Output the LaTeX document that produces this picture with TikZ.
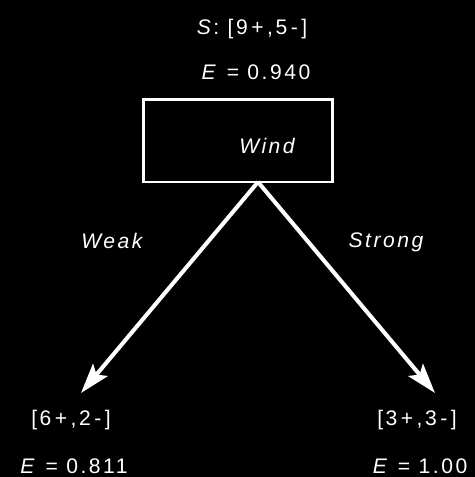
\documentclass[tikz,border=0pt]{standalone}
\usepackage{fontspec}
\newfontfamily\pixfont[LetterSpace=12]{Liberation Sans}
\usepackage{tikz}
\usetikzlibrary{arrows.meta,positioning}

\begin{document}
\begin{tikzpicture}[x=0.02cm, y=-0.02cm,
  lbl/.style={text=white, font=\pixfont\fontsize{12}{14}\selectfont\itshape, inner sep=0pt},
  num/.style={text=white, font=\pixfont\fontsize{12}{14}\selectfont, inner sep=0pt},
  attr/.style={draw=white, line width=1.7pt, minimum width=3.8cm, minimum height=1.66cm, inner sep=0pt},
  branch/.style={draw=white, line width=2.3pt, -{Stealth[length=6mm, width=3.8mm, inset=1.2mm]}}]

  % background
  \fill[black] (0,0) rectangle (475,477);

  % Root node
  \node[num] (s) at (252,29) {\textit{S}: [9\,+\,,5\,-\,]};
  \node[num] (es) at (256,72) {\textit{E} = 0.940};
  \node[attr] (wind) at (238,140.5) {};
  \node[lbl] (wl) at (267,146) {Wind};
  \coordinate (top) at (258,182);

  % Branch labels
  \node[lbl] (weak) at (112,241) {Weak};
  \node[lbl] (strong) at (386,242) {Strong};

  % Leaves
  \coordinate (lt) at (81,393);
  \coordinate (rt) at (435,393);
  \node[num] (l1) at (71,420) {[6\,+\,,2\,-\,]};
  \node[num] (l2) at (74,466) {\textit{E} = 0.811};
  \node[num] (r1) at (417,420) {[3\,+\,,3\,-\,]};
  \node[num] (r2) at (420,466) {\textit{E} = 1.00};

  % Connecting edges
  \draw[branch] (top) -- (lt);
  \draw[branch] (top) -- (rt);

\end{tikzpicture}
\end{document}
